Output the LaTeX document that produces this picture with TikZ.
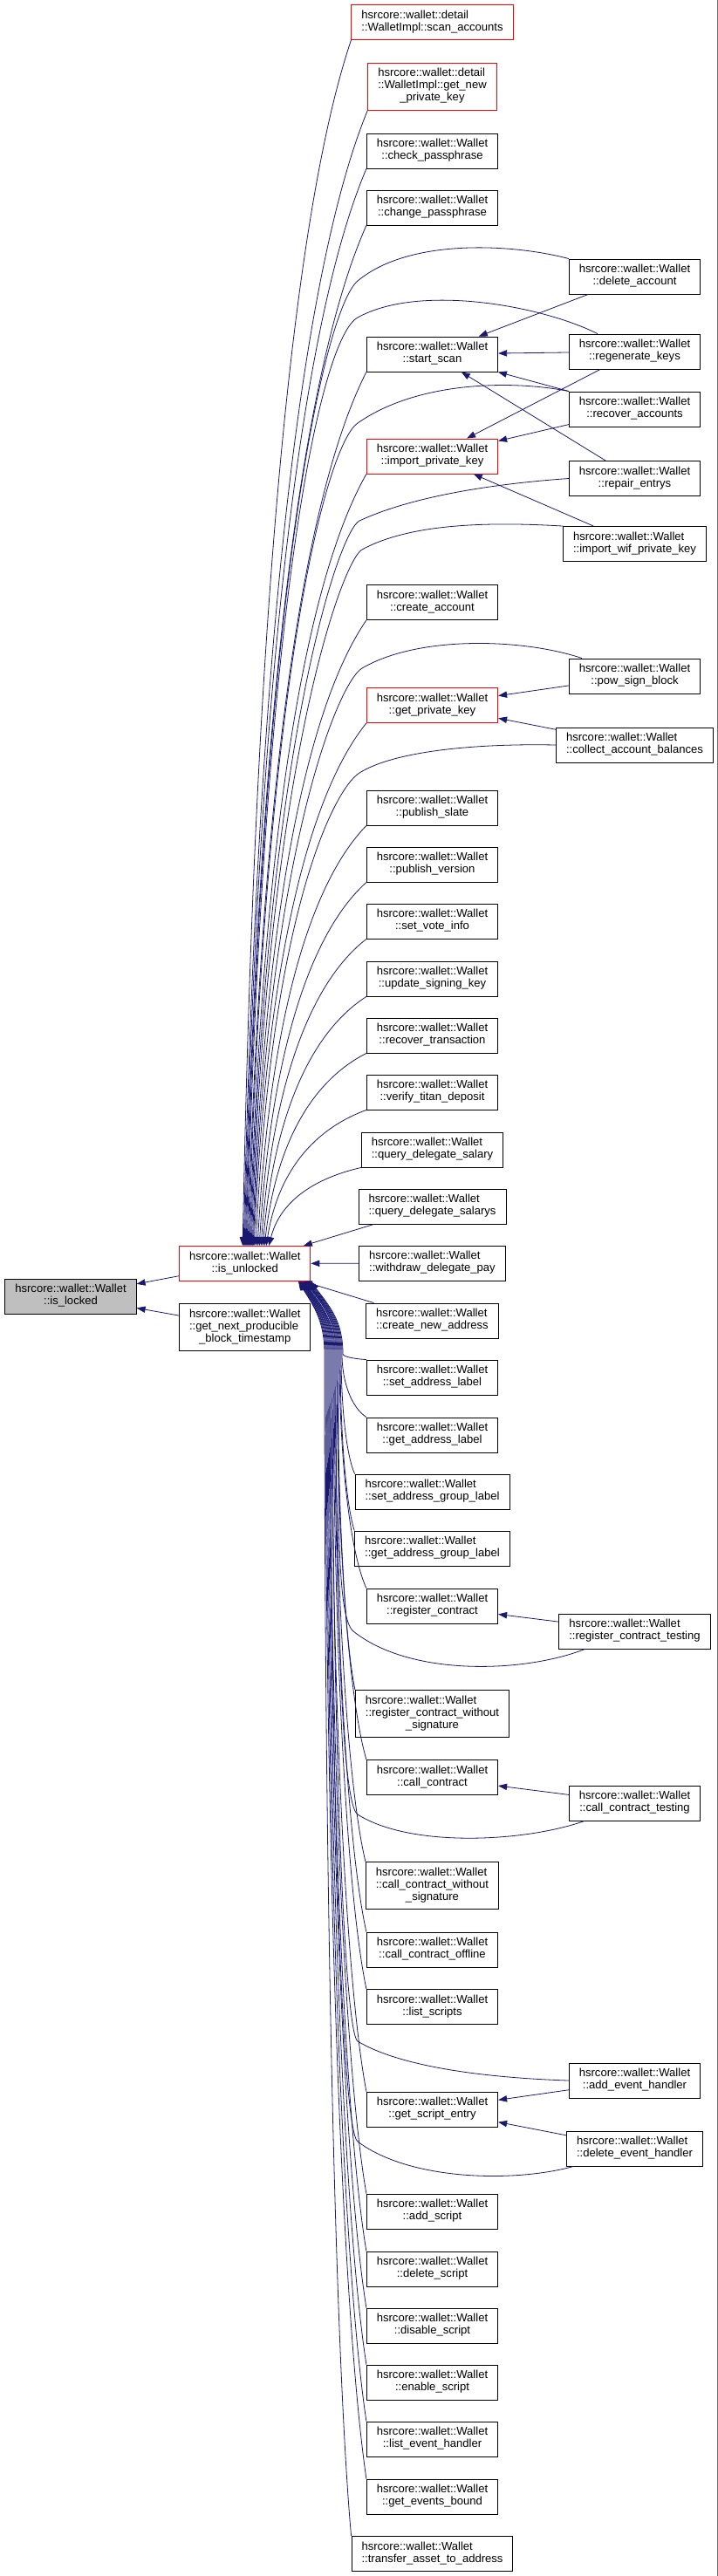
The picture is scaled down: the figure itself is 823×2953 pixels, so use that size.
\documentclass[tikz,border=0pt]{standalone}
\usepackage{fontspec}
\setmainfont{Liberation Sans}
\usepackage{tikz}
\usetikzlibrary{arrows.meta, calc}
\usepackage{xcolor}
\definecolor{edgeblue}{HTML}{191970}
\definecolor{rootgray}{HTML}{BFBFBF}
\definecolor{framegray}{HTML}{6E6E6E}
\newcommand{\wlab}[2]{\begin{tabular}{@{}l@{}}#1\\\multicolumn{1}{@{}c@{}}{#2}\end{tabular}}
\newcommand{\wal}[1]{\wlab{hsrcore::wallet::Wallet}{#1}}

\begin{document}
\begin{tikzpicture}[x=0.75pt, y=-0.75pt, font=\fontsize{9.8}{10.5}\selectfont,
  fn/.style={draw, fill=white, line width=0.7pt, minimum height=30pt, inner xsep=8.6pt, inner ysep=4.5pt},
  fnred/.style={fn, draw=red},
  fnroot/.style={fn, fill=rootgray},
  call/.style={draw=edgeblue, line width=0.6pt, -{Triangle[length=7.5pt, width=5.5pt]}}]
\useasboundingbox (0,0) rectangle (823,2953);
\draw[framegray, line width=0.8pt] (822.4,0) -- (822.4,2953);

\node[fnroot] (islocked) at (81,1486) {\wal{::is\_locked}};
\node[fnred] (isunl) at (280.75,1448.5) {\wal{::is\_unlocked}};
\node[fn] (nextblock) at (280.75,1521.5) {\wlab{hsrcore::wallet::Wallet\\::get\_next\_producible}{\_block\_timestamp}};

\node[fnred] (scanacc) at (495.5,25.5) {\wlab{hsrcore::wallet::detail}{::WalletImpl::scan\_accounts}};
\node[fnred] (newpk) at (495.5,99) {\wlab{hsrcore::wallet::detail\\::WalletImpl::get\_new}{\_private\_key}};
\node[fn] (chkpass) at (495.5,173) {\wal{::check\_passphrase}};
\node[fn] (chgpass) at (495.5,238) {\wal{::change\_passphrase}};
\node[fn] (startscan) at (495.5,406) {\wal{::start\_scan}};
\node[fnred] (importpk) at (495.5,523) {\wal{::import\_private\_key}};
\node[fn] (createacc) at (495.5,690.5) {\wal{::create\_account}};
\node[fnred] (getpk) at (495.5,808.5) {\wal{::get\_private\_key}};
\node[fn] (pubslate) at (495.5,926) {\wal{::publish\_slate}};
\node[fn] (pubver) at (495.5,991) {\wal{::publish\_version}};
\node[fn] (setvote) at (495.5,1056) {\wal{::set\_vote\_info}};
\node[fn] (updkey) at (495.5,1122) {\wal{::update\_signing\_key}};
\node[fn] (rectx) at (495.5,1187) {\wal{::recover\_transaction}};
\node[fn] (titan) at (495.5,1252) {\wal{::verify\_titan\_deposit}};
\node[fn] (qdsal) at (495.5,1318) {\wal{::query\_delegate\_salary}};
\node[fn] (qdsals) at (495.5,1383) {\wal{::query\_delegate\_salarys}};
\node[fn] (withdraw) at (495.5,1448) {\wal{::withdraw\_delegate\_pay}};
\node[fn] (newaddr) at (495.5,1514) {\wal{::create\_new\_address}};
\node[fn] (setlab) at (495.5,1579) {\wal{::set\_address\_label}};
\node[fn] (getlab) at (495.5,1645) {\wal{::get\_address\_label}};
\node[fn] (setgrp) at (495.5,1710) {\wal{::set\_address\_group\_label}};
\node[fn] (getgrp) at (495.5,1775) {\wal{::get\_address\_group\_label}};
\node[fn] (regc) at (495.5,1841) {\wal{::register\_contract}};
\node[fn] (regcwo) at (495.5,1964.5) {\wlab{hsrcore::wallet::Wallet\\::register\_contract\_without}{\_signature}};
\node[fn] (callc) at (495.5,2037.5) {\wal{::call\_contract}};
\node[fn] (callcwo) at (495.5,2161.5) {\wlab{hsrcore::wallet::Wallet\\::call\_contract\_without}{\_signature}};
\node[fn] (calloff) at (495.5,2235) {\wal{::call\_contract\_offline}};
\node[fn] (listscr) at (495.5,2300.5) {\wal{::list\_scripts}};
\node[fn] (getscr) at (495.5,2418) {\wal{::get\_script\_entry}};
\node[fn] (addscr) at (495.5,2535) {\wal{::add\_script}};
\node[fn] (delscr) at (495.5,2601) {\wal{::delete\_script}};
\node[fn] (disscr) at (495.5,2666) {\wal{::disable\_script}};
\node[fn] (enscr) at (495.5,2731) {\wal{::enable\_script}};
\node[fn] (listev) at (495.5,2796) {\wal{::list\_event\_handler}};
\node[fn] (getev) at (495.5,2862) {\wal{::get\_events\_bound}};
\node[fn] (transfer) at (495.5,2927.5) {\wal{::transfer\_asset\_to\_address}};

\node[fn] (delacc) at (727.5,317) {\wal{::delete\_account}};
\node[fn] (regen) at (727.5,403) {\wal{::regenerate\_keys}};
\node[fn] (recacc) at (727.5,469) {\wal{::recover\_accounts}};
\node[fn] (repair) at (727.5,548.5) {\wal{::repair\_entrys}};
\node[fn] (wifpk) at (727.5,623.5) {\wal{::import\_wif\_private\_key}};
\node[fn] (powsign) at (727.5,775) {\wal{::pow\_sign\_block}};
\node[fn] (collect) at (727.5,854) {\wal{::collect\_account\_balances}};
\node[fn] (regctest) at (727.5,1870) {\wal{::register\_contract\_testing}};
\node[fn] (callctest) at (727.5,2067) {\wal{::call\_contract\_testing}};
\node[fn] (addev) at (727.5,2385) {\wal{::add\_event\_handler}};
\node[fn] (delev) at (727.5,2463) {\wal{::delete\_event\_handler}};

\draw[call] (isunl) -- (islocked);
\draw[call] (nextblock) -- (islocked);
\draw[call] (qdsals) -- (isunl);
\draw[call] (withdraw) -- (isunl);
\draw[call] (newaddr) -- (isunl);
\draw[call] (delacc) -- (startscan);
\draw[call] (regen) -- (startscan);
\draw[call] (recacc) -- (startscan);
\draw[call] (repair) -- (startscan);
\draw[call] (regen) -- (importpk);
\draw[call] (recacc) -- (importpk);
\draw[call] (wifpk) -- (importpk);
\draw[call] (powsign) -- (getpk);
\draw[call] (collect) -- (getpk);
\draw[call] (regctest) -- (regc);
\draw[call] (callctest) -- (callc);
\draw[call] (addev) -- (getscr);
\draw[call] (delev) -- (getscr);

\foreach \src/\off in {scanacc/73, newpk/74, chkpass/75, chgpass/76, startscan/79, importpk/81, createacc/84, getpk/86, pubslate/90, pubver/92, setvote/94, updkey/96, rectx/98, titan/100, qdsal/103}
  \draw[call] let \p1=(\src.south west), \p2=($(isunl.north west)+(\off,0)$) in
    (\p1) .. controls ({\x1+0.3*(\x2-\x1)},{\y1+0.08*(\y2-\y1)}) and ({\x2+0.15*(\x1-\x2)},{\y2+0.7*(\y1-\y2)}) .. (\p2);

\foreach \src/\off/\lane in {setlab/151/393, getlab/150/392, setgrp/149/391, getgrp/148/390, regc/147/389, regcwo/146/387, callc/145/386, callcwo/143/384, calloff/143/383, listscr/142/382, getscr/141/380, addscr/140/378, delscr/139/377, disscr/139/376, enscr/138/375, listev/138/374, getev/137/373, transfer/137/372}
  \draw[call] let \p1=(\src.north west), \p2=($(isunl.south west)+(\off,0)$), \p3=(\lane,1552) in
    (\p1) .. controls ({\x1+0.6*(\x3-\x1)},{\y1+0.15*(\y3-\y1)}) and ({\x3},{\y3+0.45*(\y1-\y3)}) .. (\p3)
    .. controls ({\x3},{\y3+0.45*(\y2-\y3)}) and ({\x2+0.6*(\x3-\x2)},{\y2+0.35*(\y3-\y2)}) .. (\p2);

\draw[call] (delacc.north west) .. controls (590,280) and (470,272) .. (410,322) .. controls (374,352) and (301,654) .. ($(isunl.north west)+(77,0)$);
\draw[call] ($(regen.north west)+(33,0)$) .. controls (620,350) and (480,325) .. (410,364) .. controls (368,387) and (302,683) .. ($(isunl.north west)+(78,0)$);
\draw[call] (recacc.north west) .. controls (590,436) and (480,436) .. (410,485) .. controls (375,509) and (304,768) .. ($(isunl.north west)+(80,0)$);
\draw[call] (repair.west) .. controls (560,555) and (470,570) .. (412,597) .. controls (389,608) and (306,847) .. ($(isunl.north west)+(82,0)$);
\draw[call] (wifpk.north west) .. controls (560,598) and (470,600) .. (415,630) .. controls (393,642) and (307,870) .. ($(isunl.north west)+(83,0)$);
\draw[call] ($(powsign.north west)+(15,0)$) .. controls (600,732) and (480,728) .. (415,766) .. controls (389,781) and (309,965) .. ($(isunl.north west)+(85,0)$);
\draw[call] (collect.west) .. controls (540,852) and (450,862) .. (412,886) .. controls (382,905) and (311,1049) .. ($(isunl.north west)+(88,0)$);

\draw[call] ($(regctest.south west)+(30,0)$) .. controls (600,1918) and (470,1922) .. (405,1870) .. controls (385,1854) and (388,1720) .. (388,1552) .. controls (388,1514) and (373,1497) .. ($(isunl.south west)+(146,0)$);
\draw[call] ($(callctest.south west)+(18,0)$) .. controls (600,2112) and (470,2118) .. (410,2080) .. controls (392,2069) and (385,1850) .. (385,1552) .. controls (385,1514) and (371,1497) .. ($(isunl.south west)+(144,0)$);
\draw[call] (addev.west) .. controls (560,2382) and (460,2370) .. (410,2340) .. controls (395,2331) and (381,2000) .. (381,1552) .. controls (381,1514) and (367,1497) .. ($(isunl.south west)+(141,0)$);
\draw[call] ($(delev.south west)+(8,0)$) .. controls (590,2502) and (470,2500) .. (410,2455) .. controls (392,2442) and (379,2050) .. (379,1552) .. controls (379,1514) and (365,1497) .. ($(isunl.south west)+(140,0)$);
\end{tikzpicture}
\end{document}
